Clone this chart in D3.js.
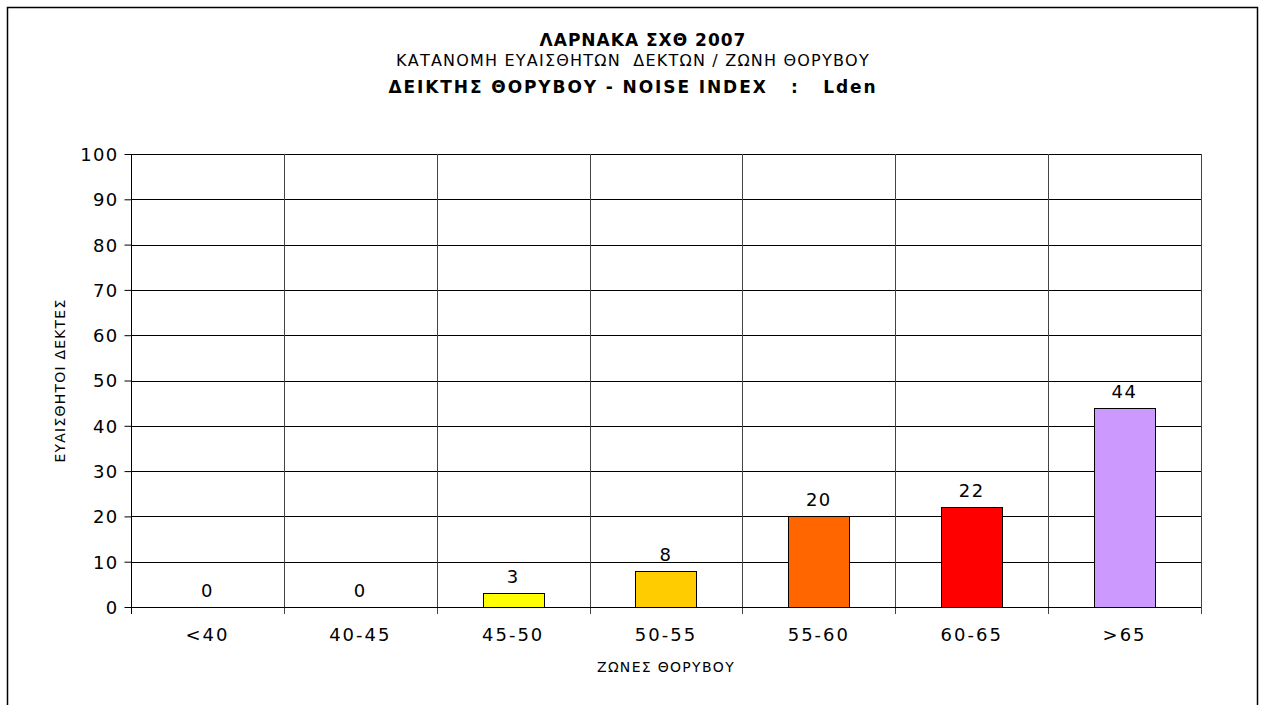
<!DOCTYPE html>
<html>
<head>
<meta charset="utf-8">
<script src="https://cdn.jsdelivr.net/npm/d3@7"></script>
<style>
  body { margin: 0; background: #fff; }
  svg { display: block; }
  text { font-family: "DejaVu Sans", Verdana, sans-serif; fill: #000; }
</style>
</head>
<body>
<svg id="chart" width="1263" height="705"></svg>
<script>
// data
var zones = ['<40', '40-45', '45-50', '50-55', '55-60', '60-65', '>65'];
var receivers = [0, 0, 3, 8, 20, 22, 44];
var barColors = ['#FFFF00', '#FFFF00', '#FFFF00', '#FFCC00', '#FF6600', '#FF0000', '#CC99FF'];
var yTicks = [0, 10, 20, 30, 40, 50, 60, 70, 80, 90, 100];

var titleLines = ['ΛΑΡΝΑΚΑ ΣΧΘ 2007', 'ΚΑΤΑΝΟΜΗ ΕΥΑΙΣΘΗΤΩΝ  ΔΕΚΤΩΝ / ΖΩΝΗ ΘΟΡΥΒΟΥ', 'ΔΕΙΚΤΗΣ ΘΟΡΥΒΟΥ - NOISE INDEX   :   Lden'];
var yTitle = 'ΕΥΑΙΣΘΗΤΟΙ ΔΕΚΤΕΣ';
var xTitle = 'ΖΩΝΕΣ ΘΟΡΥΒΟΥ';

var svg = d3.select('#chart');

// outer frame (bottom runs off the picture)
svg.append('path')
	.attr('d', 'M7.5,720 V7.5 H1257.5 V720')
	.attr('fill', 'none')
	.attr('stroke', '#000')
	.attr('stroke-width', 1.5);

var plot = {left: 131, right: 1201, top: 154, bottom: 607};

var x = d3.scaleBand().domain(zones).range([plot.left, plot.right]).paddingInner(0).paddingOuter(0);
var y = d3.scaleLinear().domain([0, 100]).range([plot.bottom, plot.top]);

var g = svg.append('g');

// horizontal grid
g.selectAll('line.hgrid').data(yTicks).enter().append('line')
	.attr('class', 'hgrid')
	.attr('x1', plot.left).attr('x2', plot.right)
	.attr('y1', d => Math.round(y(d)) + 0.5).attr('y2', d => Math.round(y(d)) + 0.5)
	.attr('stroke', '#000').attr('stroke-width', 1);

// vertical grid at category borders
var borders = zones.map(z => x(z)).concat([plot.right]);
g.selectAll('line.vgrid').data(borders.slice(1)).enter().append('line')
	.attr('class', 'vgrid')
	.attr('x1', d => Math.round(d) + 0.5).attr('x2', d => Math.round(d) + 0.5)
	.attr('y1', plot.top).attr('y2', plot.bottom + 7)
	.attr('stroke', '#444').attr('stroke-width', 1);

// y axis
var yAxis = d3.axisLeft(y).tickValues(yTicks).tickSize(7).tickPadding(6).tickFormat(d3.format('d'));
var yg = svg.append('g').attr('transform', 'translate(' + (plot.left + 0.5) + ',0)').call(yAxis);
yg.select('.domain').attr('d', 'M0,' + plot.top + 'V' + (plot.bottom + 7)).attr('stroke', '#000');
yg.selectAll('.tick line').attr('stroke', '#000');
yg.selectAll('.tick text')
	.style('font-size', '18px')
	.style('letter-spacing', '1.3px')
	.attr('dy', '0.36em');

// x axis baseline
svg.append('line')
	.attr('x1', plot.left).attr('x2', plot.right)
	.attr('y1', plot.bottom + 0.5).attr('y2', plot.bottom + 0.5)
	.attr('stroke', '#000');

// x category labels
svg.selectAll('text.xlab').data(zones).enter().append('text')
	.attr('class', 'xlab')
	.attr('x', d => x(d) + x.bandwidth() / 2)
	.attr('y', 641)
	.attr('text-anchor', 'middle')
	.style('font-size', '18px')
	.style('letter-spacing', '2px')
	.text(d => d);

// bars
var barW = x.bandwidth() * 0.4;
var barData = zones.map((z, i) => ({zone: z, v: receivers[i], c: barColors[i]}));

svg.selectAll('rect.bar').data(barData.filter(d => d.v > 0)).enter().append('rect')
	.attr('class', 'bar')
	.attr('x', d => Math.round(x(d.zone) + (x.bandwidth() - barW) / 2) + 0.5)
	.attr('width', Math.round(barW))
	.attr('y', d => Math.round(y(d.v)) + 0.5)
	.attr('height', d => Math.round(y(0)) - Math.round(y(d.v)))
	.attr('fill', d => d.c)
	.attr('stroke', '#000')
	.attr('stroke-width', 1);

// value labels
svg.selectAll('text.vlab').data(barData).enter().append('text')
	.attr('class', 'vlab')
	.attr('x', d => x(d.zone) + x.bandwidth() / 2)
	.attr('y', d => y(d.v) - 10)
	.attr('text-anchor', 'middle')
	.style('font-size', '18px')
	.style('letter-spacing', '1.5px')
	.text(d => d.v);

// titles
svg.append('text').attr('x', 643).attr('y', 46).attr('text-anchor', 'middle')
	.style('font-size', '17px').style('font-weight', 'bold').style('letter-spacing', '1px')
	.text(titleLines[0]);
svg.append('text').attr('x', 633).attr('y', 66).attr('text-anchor', 'middle')
	.style('font-size', '16px').style('letter-spacing', '1.2px').attr('xml:space', 'preserve')
	.text(titleLines[1]);
svg.append('text').attr('x', 633).attr('y', 93).attr('text-anchor', 'middle')
	.style('font-size', '17px').style('font-weight', 'bold').style('letter-spacing', '1.9px').attr('xml:space', 'preserve')
	.text(titleLines[2]);

// axis titles
svg.append('text')
	.attr('transform', 'translate(65,' + ((plot.top + plot.bottom) / 2) + ') rotate(-90)')
	.attr('text-anchor', 'middle')
	.style('font-size', '14px')
	.style('letter-spacing', '1.2px')
	.text(yTitle);
svg.append('text').attr('x', 666).attr('y', 672).attr('text-anchor', 'middle')
	.style('font-size', '14px').style('letter-spacing', '1.3px')
	.text(xTitle);
</script>
</body>
</html>
